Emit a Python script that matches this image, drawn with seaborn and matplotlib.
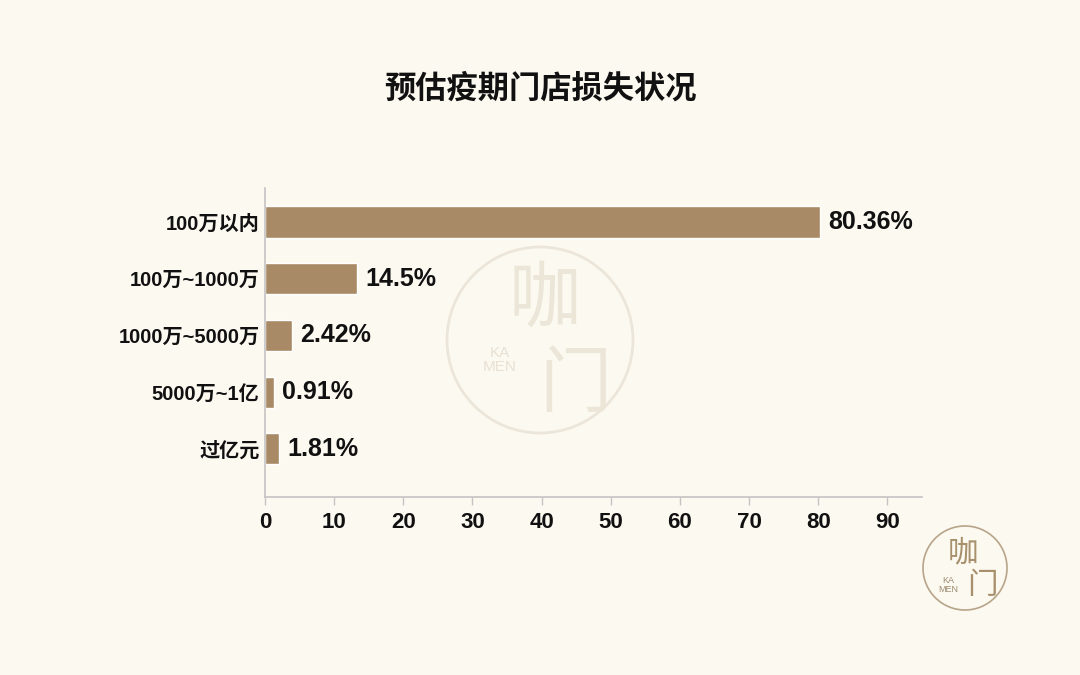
import numpy as np
import pandas as pd
import seaborn as sns
import matplotlib.pyplot as plt
from matplotlib.patches import Circle

categories = ['100万以内', '100万~1000万', '1000万~5000万', '5000万~1亿', '过亿元']
# bar lengths as drawn in the picture
bar_lengths = [80.3, 13.3, 3.9, 1.3, 2.0]
value_labels = ['80.36%', '14.5%', '2.42%', '0.91%', '1.81%']
x_ticks = [0, 10, 20, 30, 40, 50, 60, 70, 80, 90]
title = '预估疫期门店损失状况'

bg = '#fcf9f1'
bar_color = '#a88a66'

sns.set_theme(style='white')
plt.rcParams['font.family'] = ['Liberation Sans', 'Noto Sans CJK SC', 'DejaVu Sans']

df = pd.DataFrame({'cat': categories, 'val': bar_lengths})

fig = plt.figure(figsize=(10.8, 6.75), dpi=100, facecolor=bg)
ax = fig.add_axes([0.2454, 0.2637, 0.6083, 0.4578])
ax.set_facecolor('none')

# watermark behind the chart
wm = fig.add_axes([0, 0, 1, 1], zorder=-1)
wm.set_xlim(0, 1080)
wm.set_ylim(675, 0)
wm.axis('off')
wm.add_patch(Circle((540, 340), 93, fill=False, ec='#ece6da', lw=2))
wm.text(545, 300, '咖', fontsize=52, color='#ece6d9', ha='center', va='center', family=['Noto Sans CJK SC'])
wm.text(575, 385, '门', fontsize=52, color='#ece6d9', ha='center', va='center', family=['Noto Sans CJK SC'])
wm.text(500, 360, 'KA\nMEN', fontsize=11, color='#e8e1d4', ha='center', va='center', linespacing=1.0)
# bottom-right logo
wm.add_patch(Circle((965, 568), 42, fill=False, ec='#b8a488', lw=1.2))
wm.text(963, 553, '咖', fontsize=22, color='#a8906c', ha='center', va='center', family=['Noto Sans CJK SC'])
wm.text(982, 585, '门', fontsize=22, color='#a8906c', ha='center', va='center', family=['Noto Sans CJK SC'])
wm.text(948, 585, 'KA\nMEN', fontsize=6.5, color='#9c8a70', ha='center', va='center', linespacing=1.0)

sns.barplot(data=df, x='val', y='cat', orient='h', color=bar_color, width=0.55,
            saturation=1, ax=ax)

ax.bar_label(ax.containers[0], labels=value_labels, padding=6,
             fontsize=18, fontweight='bold', color='#111111')

ax.set_xlim(0, 95)
ax.set_ylim(4.85, -0.6)
ax.set_xticks(x_ticks)
ax.set_xticklabels([str(t) for t in x_ticks], fontsize=16, fontweight='bold', color='#111111')
ax.set_yticklabels(categories, fontsize=14.5, fontweight='bold', color='#111111')
ax.set_xlabel('')
ax.set_ylabel('')

for s in ['top', 'right']:
    ax.spines[s].set_visible(False)
for s in ['left', 'bottom']:
    ax.spines[s].set_color('#c4c4c4')
    ax.spines[s].set_linewidth(1.2)
ax.tick_params(axis='x', bottom=True, length=6, width=1, color='#c4c4c4', pad=5)
ax.tick_params(axis='y', left=False, length=0, pad=4)

fig.text(0.5, 1 - 89 / 675, title, fontsize=22.5, fontweight='bold', ha='center', va='center',
         color='#111111', family=['Noto Sans CJK SC'])

fig.savefig('out.png', dpi=100, facecolor=bg)
